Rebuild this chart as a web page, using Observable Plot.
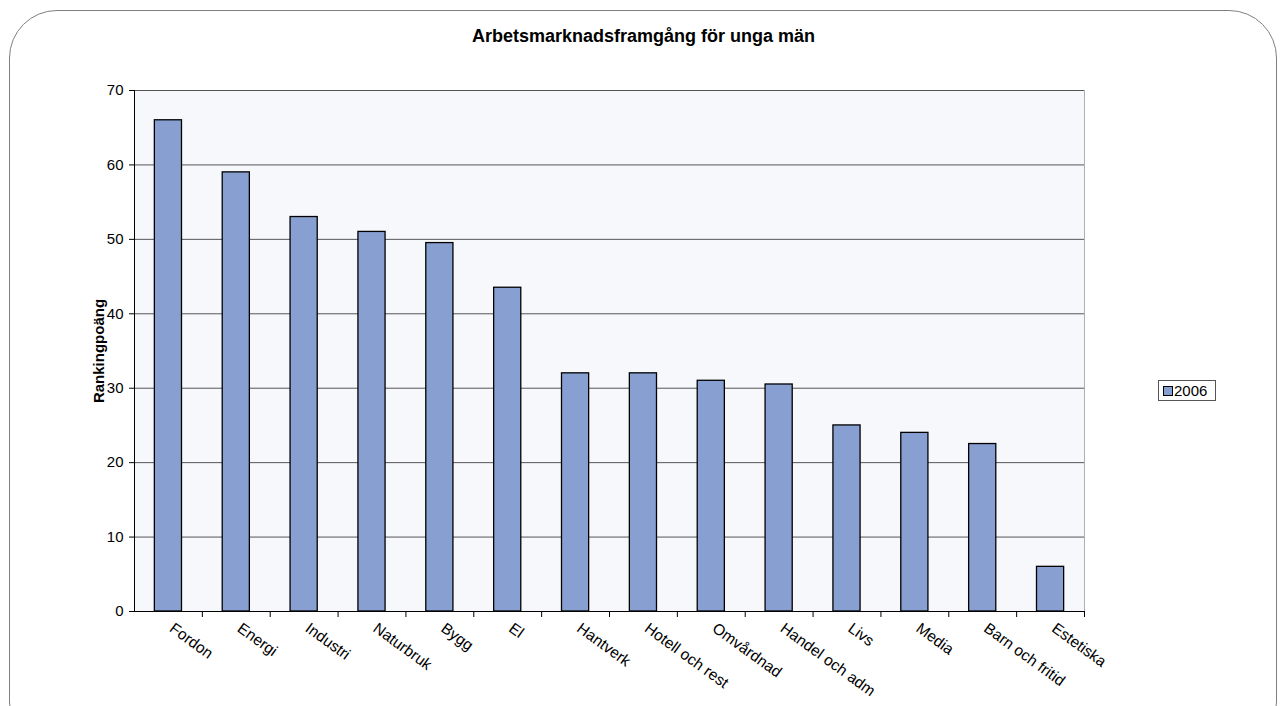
<!DOCTYPE html>
<html>
<head>
<meta charset="utf-8">
<script src="https://cdn.jsdelivr.net/npm/d3@7"></script>
<script src="https://cdn.jsdelivr.net/npm/@observablehq/plot@0.6"></script>
<style>
  html, body { margin: 0; padding: 0; background: #fff; }
  body { width: 1287px; height: 706px; position: relative; overflow: hidden; font-family: "Liberation Sans", Arial, sans-serif; }
  #frame { position: absolute; left: 9px; top: 10px; width: 1268px; height: 740px; border: 1px solid #7f7f7f; border-radius: 48px; box-sizing: border-box; }
  #title { position: absolute; left: 0; width: 1287px; top: 26px; text-align: center; font-weight: bold; font-size: 18px; line-height: 20px; color: #000; }
  #chart { position: absolute; left: 0; top: 0; }
  #legend { position: absolute; left: 1158px; top: 380px; width: 58px; height: 21px; border: 1px solid #555; box-sizing: border-box; background: #fff; font-size: 15px; display: flex; align-items: center; }
  #legend .sw { width: 8px; height: 8px; background: #879fd1; border: 1px solid #000; margin-left: 4px; margin-right: 1px; }
</style>
</head>
<body>
<div id="frame"></div>
<div id="title">Arbetsmarknadsframgång för unga män</div>
<div id="chart"></div>
<div id="legend"><div class="sw"></div><span id="legText"></span></div>
<script>
const categories = ["Fordon","Energi","Industri","Naturbruk","Bygg","El","Hantverk","Hotell och rest","Omvårdnad","Handel och adm","Livs","Media","Barn och fritid","Estetiska"];
const values2006 = [66, 59, 53, 51, 49.5, 43.5, 32, 32, 31, 30.5, 25, 24, 22.5, 6];
const yTicks = [0, 10, 20, 30, 40, 50, 60, 70];
const seriesName = "2006";
const yLabel = "Rankingpoäng";

const data = categories.map((c, i) => ({cat: c, value: values2006[i]}));
const W = 1287, H = 706, ML = 134, MR = 203, MT = 90, MB = 95;
const step = (W - ML - MR) / categories.length;

document.getElementById("legText").textContent = seriesName;

const plot = Plot.plot({
  width: W, height: H,
  marginLeft: ML, marginRight: MR, marginTop: MT, marginBottom: MB,
  style: {fontFamily: "'Liberation Sans', Arial, sans-serif", fontSize: "15px", color: "#000", background: "transparent"},
  x: {domain: categories, paddingInner: 0.6, paddingOuter: 0.3, round: false, label: null},
  y: {domain: [0, 70], label: null},
  marks: [
    Plot.frame({fill: "#f7f8fc", stroke: "#b0b0b0"}),
    Plot.ruleY(yTicks.filter(d => d > 0), {stroke: "#555", strokeWidth: 1}),
    Plot.barY(data, {x: "cat", y: "value", fill: "#879fd1", stroke: "#000", strokeWidth: 1.3}),
    Plot.ruleY([0], {stroke: "#000"}),
    Plot.frame({anchor: "left", stroke: "#000"}),
    Plot.ruleX(categories, {x: d => d, dx: step / 2, y1: 0, y2: 0, insetBottom: -6, stroke: "#000"}),
    Plot.axisY({ticks: yTicks, tickSize: 5, tickPadding: 6, fontSize: 15, label: yLabel, labelAnchor: "center", labelArrow: "none", labelOffset: 41}),
    Plot.axisX({tickSize: 0, tickPadding: 15, tickRotate: 36, dx: 3, fontSize: 15.5, label: null})
  ]
});
document.getElementById("chart").appendChild(plot);
plot.querySelectorAll("g[aria-label='y-axis label'] text").forEach(t => { t.style.fontWeight = "bold"; t.style.fontSize = "15px"; });
</script>
</body>
</html>
